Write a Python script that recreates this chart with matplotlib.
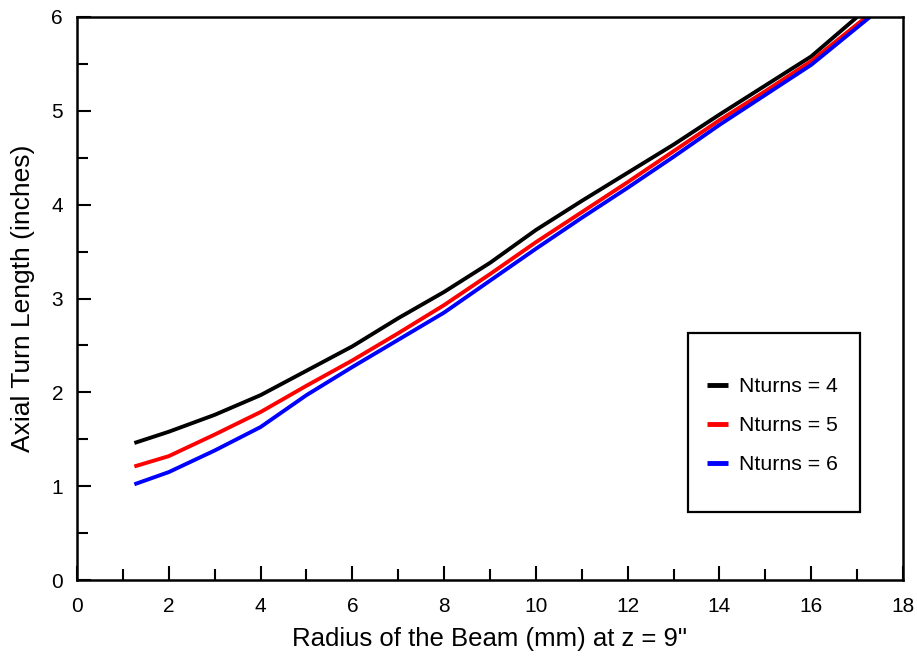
import matplotlib
matplotlib.use("Agg")
import matplotlib.pyplot as plt
from matplotlib.ticker import MultipleLocator
from matplotlib.patches import Rectangle

plt.rcParams['font.family'] = ['Liberation Sans', 'DejaVu Sans']

x4 = [1.25, 2, 3, 4, 5, 6, 7, 8, 9, 10, 11, 12, 13, 14, 15, 16, 17.0]
y4 = [1.46, 1.58, 1.76, 1.97, 2.23, 2.49, 2.79, 3.07, 3.38, 3.73, 4.04, 4.34, 4.64, 4.96, 5.27, 5.58, 6.0]
x5 = [1.25, 2, 3, 4, 5, 6, 7, 8, 9, 10, 11, 12, 13, 14, 15, 16, 17.2]
y5 = [1.21, 1.32, 1.55, 1.79, 2.07, 2.34, 2.63, 2.93, 3.26, 3.60, 3.92, 4.24, 4.57, 4.90, 5.21, 5.53, 6.0]
x6 = [1.25, 2, 3, 4, 5, 6, 7, 8, 9, 10, 11, 12, 13, 14, 15, 16, 17.28]
y6 = [1.02, 1.15, 1.38, 1.63, 1.97, 2.27, 2.56, 2.85, 3.19, 3.53, 3.86, 4.18, 4.51, 4.85, 5.17, 5.49, 6.0]
labels = ["Nturns = 4", "Nturns = 5", "Nturns = 6"]
colors = ["black", "#ff0000", "#0000ff"]

fig = plt.figure(figsize=(9.17, 6.59), dpi=100)
ax = fig.add_axes([77/917, 1 - 580/659, (903-77)/917, (580-17)/659])

for xs, ys, lab, c in zip([x4, x5, x6], [y4, y5, y6], labels, colors):
    ax.plot(xs, ys, color=c, lw=2.8, label=lab, solid_capstyle='butt')

ax.set_xlim(0, 18)
ax.set_ylim(0, 6)
ax.xaxis.set_major_locator(MultipleLocator(2))
ax.xaxis.set_minor_locator(MultipleLocator(1))
ax.yaxis.set_major_locator(MultipleLocator(1))
ax.yaxis.set_minor_locator(MultipleLocator(0.5))
ax.tick_params(which='both', direction='in', top=False, right=False, width=1.5, labelsize=15)
ax.tick_params(axis='x', pad=12)
ax.tick_params(axis='y', pad=10)
ax.tick_params(which='major', length=10)
ax.tick_params(which='minor', length=8)
for s in ax.spines.values():
    s.set_linewidth(1.8)

ax.set_xlabel('Radius of the Beam (mm) at z = 9"', fontsize=18.5, labelpad=8)
ax.set_ylabel('Axial Turn Length (inches)', fontsize=19, labelpad=12)

# legend box
ax.add_patch(Rectangle(((688-77)/826, (580-512)/563), (860-688)/826, (512-333)/563,
                       transform=ax.transAxes, fill=True, facecolor='white',
                       edgecolor='black', lw=1.6, zorder=4))
leg = ax.legend(loc='upper left', bbox_to_anchor=((707-77)/826, (580-377)/563),
                frameon=False, fontsize=15.3, handlelength=1.0,
                handletextpad=0.5, labelspacing=0.95, borderpad=0,
                borderaxespad=0)
leg.set_zorder(5)
for h in leg.get_lines():
    h.set_linewidth(3.5)

fig.savefig('out.png', dpi=100)
